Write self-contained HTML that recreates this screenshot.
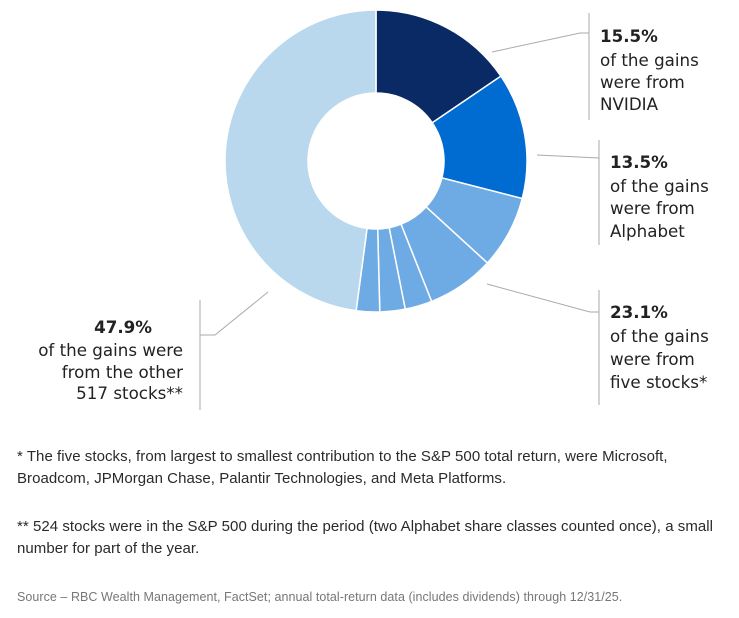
<!DOCTYPE html>
<html><head><meta charset="utf-8"><style>
body{margin:0;background:#fff;width:739px;height:618px;overflow:hidden;font-family:"Liberation Sans",sans-serif}
.fn{position:absolute;left:17px;font-size:15px;color:#2a2a2a;line-height:22px;letter-spacing:0.05px}
</style></head><body>
<svg width="739" height="440" style="position:absolute;left:0;top:0">
<g id="slices"></g>
<g stroke="#aaa" stroke-width="1" fill="none">
<polyline points="492,52 580,33 589,33"/>
<line x1="589" y1="13" x2="589" y2="120"/>
<polyline points="537,155 599,158"/>
<line x1="599" y1="140" x2="599" y2="245"/>
<polyline points="487,284 590,312 599,312"/>
<line x1="599" y1="290" x2="599" y2="405"/>
<polyline points="268,292 215,335 200,335"/>
<line x1="200" y1="300" x2="200" y2="410"/>
</g>
<g font-family="'DejaVu Sans',sans-serif" font-size="16.7" fill="#222">
<g><text x="600" y="42" font-weight="bold">15.5%</text><text x="600" y="66">of the gains</text><text x="600" y="88">were from</text><text x="600" y="110">NVIDIA</text></g>
<g><text x="610" y="168" font-weight="bold">13.5%</text><text x="610" y="192">of the gains</text><text x="610" y="214">were from</text><text x="610" y="237">Alphabet</text></g>
<g><text x="610" y="318" font-weight="bold">23.1%</text><text x="610" y="342">of the gains</text><text x="610" y="365">were from</text><text x="610" y="388">five stocks*</text></g>
<g text-anchor="end"><text x="152" y="333" font-weight="bold">47.9%</text><text x="183" y="356">of the gains were</text><text x="183" y="378">from the other</text><text x="183" y="399">517 stocks**</text></g>
</g>
</svg>
<div class="fn" style="top:446px">* The five stocks, from largest to smallest contribution to the S&amp;P 500 total return, were Microsoft,<br>Broadcom, JPMorgan Chase, Palantir Technologies, and Meta Platforms.</div>
<div class="fn" style="top:516px">** 524 stocks were in the S&amp;P 500 during the period (two Alphabet share classes counted once), a small<br>number for part of the year.</div>
<div class="fn" style="top:586px;font-size:12.5px;color:#777">Source – RBC Wealth Management, FactSet; annual total-return data (includes dividends) through 12/31/25.</div>
<script>
const categories=["NVIDIA","Alphabet","Microsoft","Broadcom","JPMorgan Chase","Palantir","Meta","Other 517 stocks"];
const values=[15.5,13.5,7.8,7.2,2.9,2.7,2.5,47.9];
const colors=["#0a2a66","#006bd0","#6eaae3","#6eaae3","#6eaae3","#6eaae3","#6eaae3","#b9d8ee"];
const cx=376,cy=161,R=151,r=68;
const total=values.reduce((a,b)=>a+b,0);
const g=document.getElementById('slices');
function pt(a,rad){return [cx+rad*Math.sin(a),cy-rad*Math.cos(a)];}
let acc=0;
values.forEach((v,i)=>{
  const a0=acc/total*2*Math.PI;acc+=v;const a1=acc/total*2*Math.PI;
  const lg=(a1-a0)>Math.PI?1:0;
  const p0=pt(a0,R),p1=pt(a1,R),q1=pt(a1,r),q0=pt(a0,r);
  const p=document.createElementNS('http://www.w3.org/2000/svg','path');
  p.setAttribute('d',`M${p0}A${R},${R} 0 ${lg} 1 ${p1}L${q1}A${r},${r} 0 ${lg} 0 ${q0}Z`);
  p.setAttribute('fill',colors[i]);p.setAttribute('stroke','#fff');p.setAttribute('stroke-width','1.5');
  
  
  g.appendChild(p);
});
</script>
</body></html>
